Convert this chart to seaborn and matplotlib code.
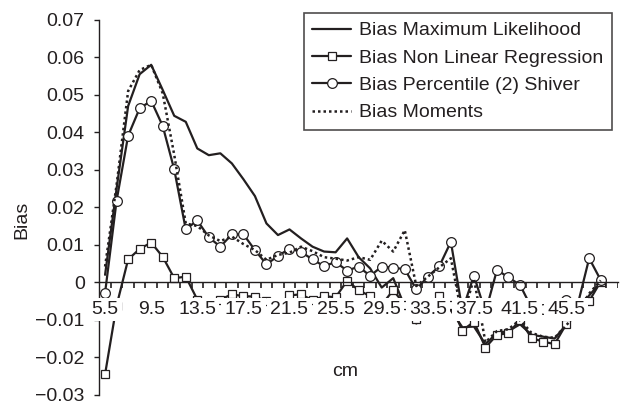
import numpy as np
import pandas as pd
import seaborn as sns
import matplotlib
matplotlib.use("Agg")
import matplotlib.pyplot as plt
from matplotlib import font_manager
from matplotlib.ticker import FixedLocator, FixedFormatter, NullFormatter, FuncFormatter

# category midpoints (cm)
cm = [5.5, 6.5, 7.5, 8.5, 9.5, 10.5, 11.5, 12.5, 13.5, 14.5, 15.5, 16.5, 17.5, 18.5, 19.5,
      20.5, 21.5, 22.5, 23.5, 24.5, 25.5, 26.5, 27.5, 28.5, 29.5, 30.5, 31.5, 32.5, 33.5,
      34.5, 35.5, 36.5, 37.5, 38.5, 39.5, 40.5, 41.5, 42.5, 43.5, 44.5, 45.5, 46.5, 47.5, 48.5]
shown_labels = ["5.5", "9.5", "13.5", "17.5", "21.5", "25.5", "29.5", "33.5", "37.5", "41.5", "45.5"]

bias_ml = [0.0020, 0.0250, 0.0470, 0.0555, 0.0580, 0.0513, 0.0444, 0.0428, 0.0357, 0.0339,
           0.0344, 0.0317, 0.0275, 0.0230, 0.0157, 0.0126, 0.0141, 0.0117, 0.0095, 0.0082,
           0.0080, 0.0117, 0.0067, 0.0037, -0.0014, 0.0011, -0.0065, -0.0110, -0.0085, -0.0060,
           -0.0075, -0.0120, -0.0118, -0.0165, -0.0135, -0.0130, -0.0112, -0.0140, -0.0145, -0.0150,
           -0.0113, -0.0075, -0.0035, 0.0000]
bias_nlr = [-0.0245, -0.0062, 0.0061, 0.0089, 0.0106, 0.0068, 0.0011, 0.0015, -0.0046, -0.0060,
            -0.0046, -0.0032, -0.0037, -0.0038, -0.0050, -0.0060, -0.0035, -0.0032, -0.0048, -0.0037,
            -0.0040, 0.0004, -0.0021, -0.0037, -0.0060, -0.0021, -0.0060, -0.0098, -0.0060, -0.0037,
            -0.0060, -0.0129, -0.0105, -0.0174, -0.0140, -0.0136, -0.0100, -0.0149, -0.0158, -0.0165,
            -0.0112, -0.0070, -0.0050, 0.0002]
bias_pct = [-0.0028, 0.0218, 0.0391, 0.0464, 0.0484, 0.0417, 0.0301, 0.0141, 0.0165, 0.0120,
            0.0095, 0.0128, 0.0128, 0.0086, 0.0048, 0.0070, 0.0090, 0.0081, 0.0061, 0.0043,
            0.0054, 0.0031, 0.0042, 0.0017, 0.0042, 0.0039, 0.0035, -0.0019, 0.0015, 0.0043,
            0.0108, -0.0075, 0.0018, -0.0080, 0.0033, 0.0013, -0.0007, -0.0068, -0.0072, -0.0060,
            -0.0046, -0.0060, 0.0064, 0.0006]
bias_mom = [0.0042, 0.0260, 0.0510, 0.0566, 0.0580, 0.0504, 0.0340, 0.0157, 0.0150, 0.0125,
            0.0110, 0.0122, 0.0102, 0.0086, 0.0060, 0.0073, 0.0079, 0.0095, 0.0083, 0.0067,
            0.0063, 0.0058, 0.0067, 0.0060, 0.0111, 0.0082, 0.0139, -0.0010, 0.0015, 0.0040,
            0.0064, -0.0095, 0.0010, -0.0160, -0.0130, -0.0125, -0.0100, -0.0135, -0.0145, -0.0148,
            -0.0115, -0.0080, -0.0030, 0.0005]

df = pd.DataFrame({"cm": cm, "ml": bias_ml, "nlr": bias_nlr, "pct": bias_pct, "mom": bias_mom})
df["pos"] = np.arange(len(df))

ink = "#231f20"
sns.set_style("white")
plt.rcParams["font.family"] = ["Liberation Sans", "DejaVu Sans"]
plt.rcParams.update({"xtick.bottom": True, "ytick.left": True})
names = {f.name for f in font_manager.fontManager.ttflist}
narrow = "Liberation Sans Narrow" if "Liberation Sans Narrow" in names else "Liberation Sans"

fig = plt.figure(figsize=(6.25, 4.07), dpi=100)
ax = fig.add_axes([0.1589, 0.030, 0.8299, 0.9213])

sns.lineplot(data=df, x="pos", y="ml", ax=ax, color=ink, lw=1.6, label="Bias Maximum Likelihood")
sns.lineplot(data=df, x="pos", y="nlr", ax=ax, color=ink, lw=1.6, marker="s", ms=6.2,
             mfc="white", mec=ink, mew=0.9, label="Bias Non Linear Regression")
sns.lineplot(data=df, x="pos", y="pct", ax=ax, color=ink, lw=1.6, marker="o", ms=7,
             mfc="white", mec=ink, mew=0.9, label="Bias Percentile (2) Shiver")
sns.lineplot(data=df, x="pos", y="mom", ax=ax, color=ink, lw=1.8, ls=(0, (1, 1.2)),
             label="Bias Moments")

ax.set_xlim(-0.5, len(cm) + 0.5)
ax.set_ylim(-0.03, 0.07)

for side in ["top", "right"]:
    ax.spines[side].set_visible(False)
ax.spines["bottom"].set_position(("data", 0))
for side in ["left", "bottom"]:
    ax.spines[side].set_color(ink)
    ax.spines[side].set_linewidth(1.0)

# category tick marks hanging from the zero line, between categories
edges = np.arange(-0.5, len(cm) + 1, 1.0)
ax.vlines(edges, -0.0014, 0, colors=ink, linewidth=1.2, zorder=4.5)

# labels every 4th category
ax.xaxis.set_major_locator(FixedLocator(edges))
ax.xaxis.set_major_formatter(NullFormatter())
ax.xaxis.set_minor_locator(FixedLocator(np.arange(0, 41, 4)))
ax.xaxis.set_minor_formatter(FixedFormatter(shown_labels))
ax.xaxis.remove_overlapping_locs = False
ax.tick_params(axis="x", which="major", length=0)
ax.tick_params(axis="x", which="minor", bottom=True, length=0, pad=13.5, labelsize=14,
               labelcolor=ink)
fig.canvas.draw()
for lab in ax.get_xticklabels(minor=True):
    lab.set_family([narrow, "DejaVu Sans"])
    lab.set_bbox(dict(facecolor="white", edgecolor="none", pad=2.2))
ax.xaxis.set_zorder(5)

ax.set_yticks(np.arange(-0.03, 0.0701, 0.01))
ax.yaxis.set_major_formatter(FuncFormatter(
    lambda v, p: "0" if abs(v) < 1e-9 else f"{v:.2f}".replace("-", "\u2212")))
ax.tick_params(axis="y", which="major", left=True, length=3.5, width=1.0, color=ink,
               direction="out", pad=7, labelsize=14, labelcolor=ink)

ax.set_xlabel("")
ax.set_ylabel("")
fig.text(22 / 625, 1 - 220 / 407, "Bias", rotation=90, ha="center", va="center",
         fontsize=14, color=ink)
fig.text(345 / 625, 1 - 372 / 407, "cm", ha="center", va="center", fontsize=14, color=ink)

leg = ax.legend(loc="upper right", bbox_to_anchor=(612 / 625, 1 - 13 / 407),
                bbox_transform=fig.transFigure, borderaxespad=0, frameon=True,
                fancybox=False, shadow=False, fontsize=14, handlelength=2.0,
                handletextpad=0.4, labelspacing=0.5, borderpad=0.45)
leg.get_frame().set_edgecolor(ink)
leg.get_frame().set_linewidth(1.2)
for t in leg.get_texts():
    t.set_color(ink)
leg.set_zorder(6)

fig.savefig("out.png", dpi=100)
